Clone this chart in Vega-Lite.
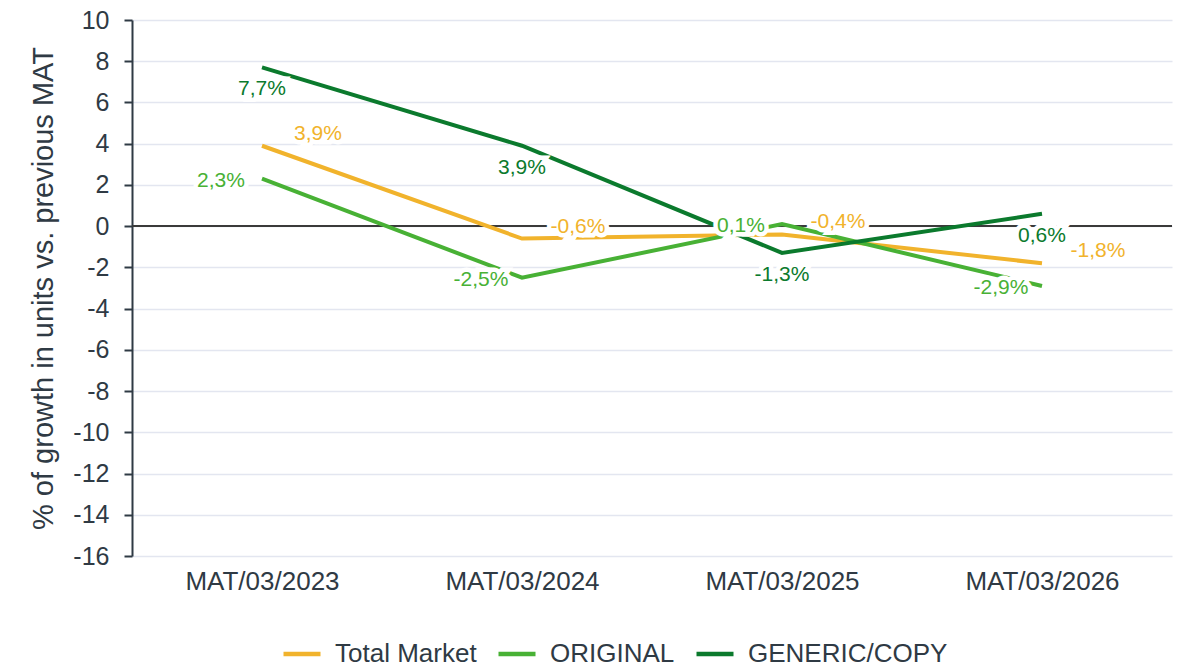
{
  "$schema": "https://vega.github.io/schema/vega-lite/v6.json",
  "width": 1040,
  "height": 536,
  "autosize": {"type": "none"},
  "padding": {"left": 132, "top": 20, "right": 8, "bottom": 111},
  "background": "white",
  "config": {
    "font": "Liberation Sans",
    "view": {"stroke": null},
    "axis": {"labelFont": "Liberation Sans", "titleFont": "Liberation Sans"}
  },
  "data": {
    "values": [
      {"period": "MAT/03/2023", "series": "Total Market", "value": 3.9, "label": "3,9%"},
      {"period": "MAT/03/2024", "series": "Total Market", "value": -0.6, "label": "-0,6%"},
      {"period": "MAT/03/2025", "series": "Total Market", "value": -0.4, "label": "-0,4%"},
      {"period": "MAT/03/2026", "series": "Total Market", "value": -1.8, "label": "-1,8%"},
      {"period": "MAT/03/2023", "series": "ORIGINAL", "value": 2.3, "label": "2,3%"},
      {"period": "MAT/03/2024", "series": "ORIGINAL", "value": -2.5, "label": "-2,5%"},
      {"period": "MAT/03/2025", "series": "ORIGINAL", "value": 0.1, "label": "0,1%"},
      {"period": "MAT/03/2026", "series": "ORIGINAL", "value": -2.9, "label": "-2,9%"},
      {"period": "MAT/03/2023", "series": "GENERIC/COPY", "value": 7.7, "label": "7,7%"},
      {"period": "MAT/03/2024", "series": "GENERIC/COPY", "value": 3.9, "label": "3,9%"},
      {"period": "MAT/03/2025", "series": "GENERIC/COPY", "value": -1.3, "label": "-1,3%"},
      {"period": "MAT/03/2026", "series": "GENERIC/COPY", "value": 0.6, "label": "0,6%"}
    ]
  },
  "encoding": {
    "x": {
      "field": "period", "type": "ordinal",
      "scale": {"type": "point", "padding": 0.5},
      "axis": {
        "title": null, "domain": false, "ticks": false, "grid": false,
        "labelAngle": 0, "labelFontSize": 26, "labelColor": "#2F3A44", "labelPadding": 12
      }
    },
    "y": {
      "field": "value", "type": "quantitative",
      "scale": {"domain": [-16, 10], "nice": false, "zero": false},
      "axis": {
        "title": "% of growth in units vs. previous MAT",
        "titleFontSize": 29, "titleFontWeight": "normal", "titleColor": "#2F3A44", "titlePadding": 14,
        "values": [-16, -14, -12, -10, -8, -6, -4, -2, 0, 2, 4, 6, 8, 10],
        "labelExpr": "toString(datum.value)",
        "labelFontSize": 25, "labelColor": "#2F3A44", "labelPadding": 15,
        "tickSize": 8, "tickColor": "#2F3A44", "tickWidth": 2,
        "domainColor": "#2F3A44", "domainWidth": 2,
        "gridColor": "#E3E6F0", "gridWidth": 1.5
      }
    }
  },
  "layer": [
    {
      "mark": {"type": "rule", "color": "#3A3A3A", "strokeWidth": 1.5},
      "encoding": {"x": {"value": 0}, "x2": {"value": 1040}, "y": {"datum": 0}}
    },
    {
      "mark": {"type": "line", "strokeWidth": 4},
      "encoding": {
        "color": {
          "field": "series", "type": "nominal",
          "scale": {"domain": ["Total Market", "ORIGINAL", "GENERIC/COPY"], "range": ["#F1B32C", "#48B135", "#0B7A2D"]},
          "legend": {
            "title": null, "orient": "none", "direction": "horizontal",
            "legendX": 149, "legendY": 613,
            "symbolType": "stroke", "symbolSize": 1369, "symbolStrokeWidth": 4.5,
            "labelFontSize": 26, "labelColor": "#2F3A44", "labelOffset": 12,
            "columnPadding": 12, "labelLimit": 400
          }
        }
      }
    },
    {
      "transform": [{"filter": "datum.series == 'GENERIC/COPY'"}],
      "mark": {"type": "text", "dy": 22, "fontSize": 21, "stroke": "white", "strokeWidth": 9, "strokeJoin": "miter", "fill": "white"},
      "encoding": {"text": {"field": "label"}}
    },
    {
      "transform": [{"filter": "datum.series == 'GENERIC/COPY'"}],
      "mark": {"type": "text", "dy": 22, "fontSize": 21, "color": "#0B7A2D"},
      "encoding": {"text": {"field": "label"}}
    },
    {
      "transform": [{"filter": "datum.series == 'Total Market'"}],
      "mark": {"type": "text", "dx": 56, "dy": -12, "fontSize": 21, "stroke": "white", "strokeWidth": 9, "strokeJoin": "miter", "fill": "white"},
      "encoding": {"text": {"field": "label"}}
    },
    {
      "transform": [{"filter": "datum.series == 'Total Market'"}],
      "mark": {"type": "text", "dx": 56, "dy": -12, "fontSize": 21, "color": "#F1B32C"},
      "encoding": {"text": {"field": "label"}}
    },
    {
      "transform": [{"filter": "datum.series == 'ORIGINAL'"}],
      "mark": {"type": "text", "dx": -41, "dy": 2, "fontSize": 21, "stroke": "white", "strokeWidth": 9, "strokeJoin": "miter", "fill": "white"},
      "encoding": {"text": {"field": "label"}}
    },
    {
      "transform": [{"filter": "datum.series == 'ORIGINAL'"}],
      "mark": {"type": "text", "dx": -41, "dy": 2, "fontSize": 21, "color": "#48B135"},
      "encoding": {"text": {"field": "label"}}
    }
  ]
}
